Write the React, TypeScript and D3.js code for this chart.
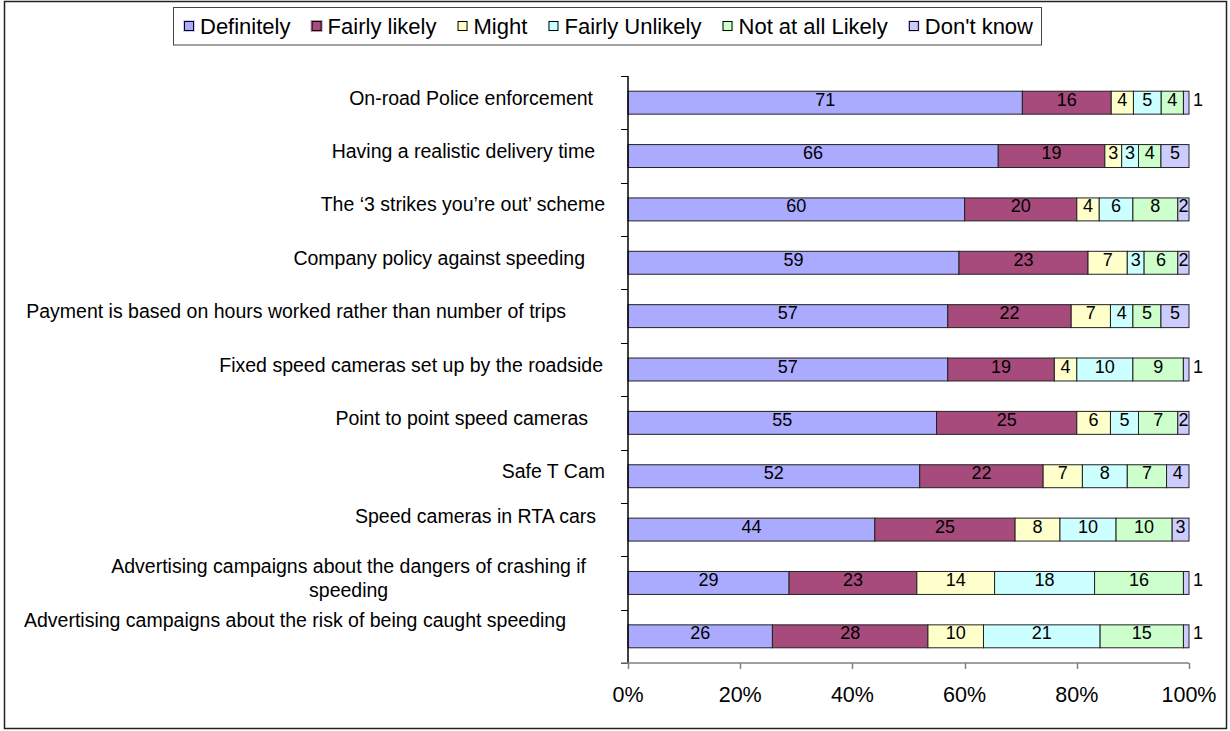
import React, { useEffect, useRef } from 'react';
import * as d3 from 'd3';

const categories = [
  'On-road Police enforcement',
  'Having a realistic delivery time',
  'The ‘3 strikes you’re out’ scheme',
  'Company policy against speeding',
  'Payment is based on hours worked rather than number of trips',
  'Fixed speed cameras set up by the roadside',
  'Point to point speed cameras',
  'Safe T Cam',
  'Speed cameras in RTA cars',
  'Advertising campaigns about the dangers of crashing if\nspeeding',
  'Advertising campaigns about the risk of being caught speeding',
];
const seriesNames = ['Definitely', 'Fairly likely', 'Might', 'Fairly Unlikely', 'Not at all Likely', "Don't know"];
const definitely = [71, 66, 60, 59, 57, 57, 55, 52, 44, 29, 26];
const fairlyLikely = [16, 19, 20, 23, 22, 19, 25, 22, 25, 23, 28];
const might = [4, 3, 4, 7, 7, 4, 6, 7, 8, 14, 10];
const fairlyUnlikely = [5, 3, 6, 3, 4, 10, 5, 8, 10, 18, 21];
const notAtAllLikely = [4, 4, 8, 6, 5, 9, 7, 7, 10, 16, 15];
const dontKnow = [1, 5, 2, 2, 5, 1, 2, 4, 3, 1, 1];
const xTicks = [0, 0.2, 0.4, 0.6, 0.8, 1];

// layout / style constants
const colors = ['#AAAAFF', '#A64B7B', '#FFFFCC', '#CCFFFF', '#CCFFCC', '#CCCCFF'];
const FONT = 'Liberation Sans, Arial, sans-serif';
const labelNudgeY = [0, 0, 0, 0, 0, 0, 0, 0, -9, 0, -11];
const labelRightX = [593, 595, 605, 585, 566, 603, 588, 605, 596, 586, 566];

export default function App() {
  const ref = useRef<SVGSVGElement>(null);
  useEffect(() => {
    const svg = d3.select(ref.current);
    svg.selectAll('*').remove();

    svg.append('rect').attr('x', 4.5).attr('y', 1.5).attr('width', 1222).attr('height', 727)
      .attr('fill', '#fff').attr('stroke', '#222').attr('stroke-width', 1.5);

    const keys = seriesNames;
    const seriesArrays = [definitely, fairlyLikely, might, fairlyUnlikely, notAtAllLikely, dontKnow];
    const table = categories.map((c, i) => {
      const row: any = { category: c };
      keys.forEach((k, j) => (row[k] = seriesArrays[j][i]));
      return row;
    });
    const stacked = d3.stack<any>().keys(keys).offset(d3.stackOffsetExpand)(table);

    const x = d3.scaleLinear().domain([0, 1]).range([628, 1189]);
    const y = d3.scaleBand<string>().domain(categories).range([76, 663]).paddingInner(0.57).paddingOuter(0.285);
    const step = y.step();

    // bars
    stacked.forEach((s, j) => {
      const g = svg.append('g');
      g.selectAll('rect').data(s).join('rect')
        .attr('x', (d) => x(d[0]))
        .attr('y', (d) => y(d.data.category)!)
        .attr('width', (d) => Math.max(0, x(d[1]) - x(d[0])))
        .attr('height', y.bandwidth())
        .attr('fill', colors[j])
        .attr('stroke', '#222')
        .attr('stroke-width', 1);
    });
    // data labels
    stacked.forEach((s, j) => {
      const g = svg.append('g');
      s.forEach((d) => {
        const v = d.data[keys[j]];
        const cy = y(d.data.category)! + y.bandwidth() / 2;
        const outside = j === keys.length - 1 && v <= 1;
        g.append('text')
          .attr('x', outside ? x(1) + 4 : (x(d[0]) + x(d[1])) / 2)
          .attr('y', cy + 3)
          .attr('text-anchor', outside ? 'start' : 'middle')
          .attr('font-family', FONT).attr('font-size', 18).attr('fill', '#000')
          .text(String(v));
      });
    });

    // y axis
    const yTop = y.range()[0], yBot = y.range()[1];
    svg.append('line').attr('x1', 628).attr('x2', 628).attr('y1', yTop).attr('y2', yBot)
      .attr('stroke', '#000').attr('stroke-width', 1.5);
    d3.range(categories.length + 1).forEach((i) => {
      const ty = Math.round(yTop + i * step) + 0.5;
      svg.append('line').attr('x1', 621).attr('x2', 628).attr('y1', ty).attr('y2', ty)
        .attr('stroke', '#000').attr('stroke-width', 1);
    });
    // category labels
    const catSize = 19.5;
    categories.forEach((c, i) => {
      const lines = c.split('\n');
      const cy = y(c)! + y.bandwidth() / 2 + labelNudgeY[i];
      const lh = 24;
      const t = svg.append('text').attr('font-family', FONT).attr('font-size', catSize).attr('fill', '#000');
      if (lines.length === 1) {
        t.attr('x', labelRightX[i]).attr('y', cy + 2).attr('text-anchor', 'end').text(c);
      } else {
        const tmp = svg.append('text').attr('font-family', FONT).attr('font-size', catSize).text(lines[0]);
        const w = (tmp.node() as SVGTextElement).getComputedTextLength();
        tmp.remove();
        const cx = labelRightX[i] - w / 2;
        lines.forEach((ln, k) => {
          t.append('tspan').attr('x', cx).attr('text-anchor', 'middle')
            .attr('y', cy + 2 - ((lines.length - 1) * lh) / 2 + k * lh).text(ln);
        });
      }
    });

    // x axis
    svg.append('line').attr('x1', 621).attr('x2', 1189).attr('y1', yBot).attr('y2', yBot)
      .attr('stroke', '#808080').attr('stroke-width', 1.5);
    xTicks.forEach((t) => {
      const tx = Math.round(x(t)) + 0.5;
      svg.append('line').attr('x1', tx).attr('x2', tx).attr('y1', yBot).attr('y2', yBot + 6)
        .attr('stroke', '#808080').attr('stroke-width', 1.5);
      svg.append('text').attr('x', x(t)).attr('y', yBot + 39).attr('text-anchor', 'middle')
        .attr('font-family', FONT).attr('font-size', 21.5).attr('fill', '#000')
        .text(d3.format('.0%')(t));
    });

    // legend
    const lg = svg.append('g');
    lg.append('rect').attr('x', 173.5).attr('y', 7.5).attr('height', 37.5).attr('width', 868)
      .attr('fill', '#fff').attr('stroke', '#444').attr('stroke-width', 1);
    const legendStart = 184, legendEnd = 1033, markerGap = 16;
    const texts = keys.map((k) =>
      lg.append('text').attr('y', 34).attr('font-family', FONT).attr('font-size', 22).attr('fill', '#000').text(k));
    const widths = texts.map((t) => (t.node() as SVGTextElement).getComputedTextLength());
    const total = d3.sum(widths) + keys.length * markerGap;
    const gap = (legendEnd - legendStart - total) / (keys.length - 1);
    let lx = legendStart;
    keys.forEach((k, j) => {
      lg.insert('rect', 'text').attr('x', lx - 1).attr('y', 20).attr('width', 12).attr('height', 12)
        .attr('fill', colors[j]).attr('opacity', 0.6);
      lg.insert('rect', 'text').attr('x', lx + 0.5).attr('y', 21.5).attr('width', 9).attr('height', 9)
        .attr('fill', colors[j]).attr('stroke', '#000').attr('stroke-width', 1);
      texts[j].attr('x', lx + markerGap);
      lx = lx + markerGap + widths[j] + gap;
    });
  }, []);
  return (
    <svg ref={ref} width={1230} height={731} style={{ position: 'absolute', left: 0, top: 0, background: '#fff' }} />
  );
}
